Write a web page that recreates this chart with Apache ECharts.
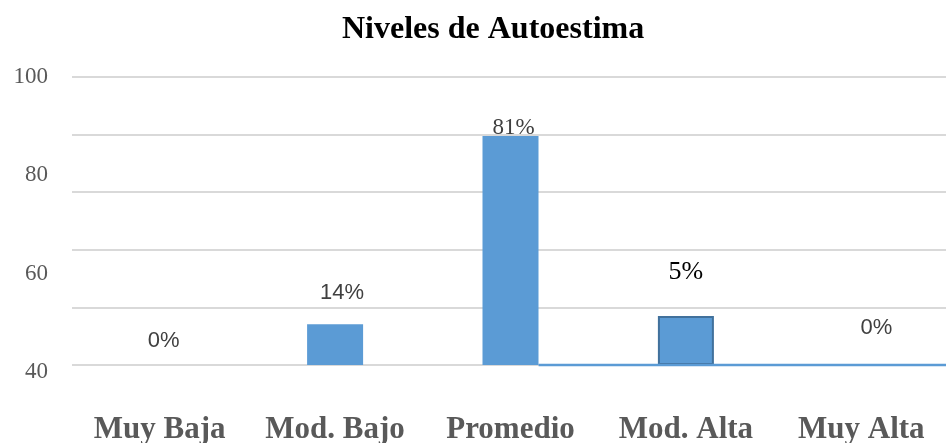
<!DOCTYPE html>
<html>
<head>
<meta charset="utf-8">
<script src="https://cdn.jsdelivr.net/npm/echarts@6/dist/echarts.min.js"></script>
<style>
  html, body { margin: 0; padding: 0; background: #fff; }
  #chart { width: 946px; height: 443px; }
</style>
</head>
<body>
<div id="chart"></div>
<script>
var categories = ['Muy Baja', 'Mod. Bajo', 'Promedio', 'Mod. Alta', 'Muy Alta']
// bar heights read against the gridlines (baseline = 0, top gridline = 60)
var barValues = [0, 8.5, 47.7, 10.2, 0]
var barLabels = ['0%', '14%', '81%', '5%', '0%']
// tick labels shown on the left
var yTicks = [40, 60, 80, 100]
// blue baseline from the right edge of "Promedio" to the end
var baseLine = [[2.66, 0], [5, 0]]

var chart = echarts.init(document.getElementById('chart'))

var blue = '#5b9bd5'
var sansLabel = { fontFamily: 'Liberation Sans', fontSize: 22, color: '#404040' }
var serifLabel = { fontFamily: 'Liberation Serif', fontSize: 23, color: '#404040' }

// per bar label look (the source mixes fonts)
var labelStyles = [
  Object.assign({ offset: [4, -8] }, sansLabel),
  Object.assign({ offset: [7, -15] }, sansLabel),
  Object.assign({ offset: [3, 8] }, serifLabel),
  Object.assign({ offset: [0, -26] }, serifLabel, { fontSize: 26, color: '#000' }),
  Object.assign({ offset: [15, -21] }, sansLabel)
]

var barData = barValues.map(function (v, i) {
  var item = { value: v, label: labelStyles[i] }
  if (i === 3) {
    item.itemStyle = { borderColor: '#41719c', borderWidth: 2 }
  }
  return item
})

var option = {
  backgroundColor: '#fff',
  animation: false,
  title: {
    text: 'Niveles de Autoestima',
    left: 337,
    top: 9,
    textStyle: {
      fontFamily: 'Liberation Serif',
      fontWeight: 'bold',
      fontSize: 32,
      color: '#000'
    }
  },
  grid: [
    // gridlines + bars
    { left: 72, right: -3, top: 77, height: 288, outerBoundsMode: 'none', containLabel: false },
    // tick labels
    { left: 72, right: -3, top: 77, height: 295, outerBoundsMode: 'none', containLabel: false }
  ],
  xAxis: [
    {
      type: 'category',
      gridIndex: 0,
      data: categories,
      axisLine: { show: false },
      axisTick: { show: false },
      axisLabel: {
        interval: 0,
        margin: 49,
        fontFamily: 'Liberation Serif',
        fontWeight: 'bold',
        fontSize: 31,
        color: '#595959'
      }
    },
    { type: 'category', gridIndex: 1, data: categories, show: false },
    { type: 'value', gridIndex: 0, min: 0, max: 5, show: false }
  ],
  yAxis: [
    {
      type: 'value',
      gridIndex: 0,
      min: 0,
      max: 60,
      interval: 12,
      axisLabel: { show: false },
      axisLine: { show: false },
      axisTick: { show: false },
      splitLine: { lineStyle: { color: '#d9d9d9', width: 2 } }
    },
    {
      type: 'value',
      gridIndex: 1,
      min: yTicks[0],
      max: yTicks[yTicks.length - 1],
      interval: 20,
      axisLine: { show: false },
      axisTick: { show: false },
      splitLine: { show: false },
      axisLabel: {
        margin: 24,
        fontFamily: 'Liberation Serif',
        fontSize: 23,
        color: '#595959'
      }
    }
  ],
  series: [
    {
      type: 'bar',
      xAxisIndex: 0,
      yAxisIndex: 0,
      barWidth: 56,
      itemStyle: { color: blue },
      label: {
        show: true,
        position: 'top',
        formatter: function (p) { return barLabels[p.dataIndex] }
      },
      data: barData,
      z: 3
    },
    {
      type: 'line',
      xAxisIndex: 2,
      yAxisIndex: 0,
      data: baseLine,
      symbol: 'none',
      clip: false,
      lineStyle: { color: blue, width: 2.5 },
      z: 4
    }
  ]
}

chart.setOption(option)
</script>
</body>
</html>
